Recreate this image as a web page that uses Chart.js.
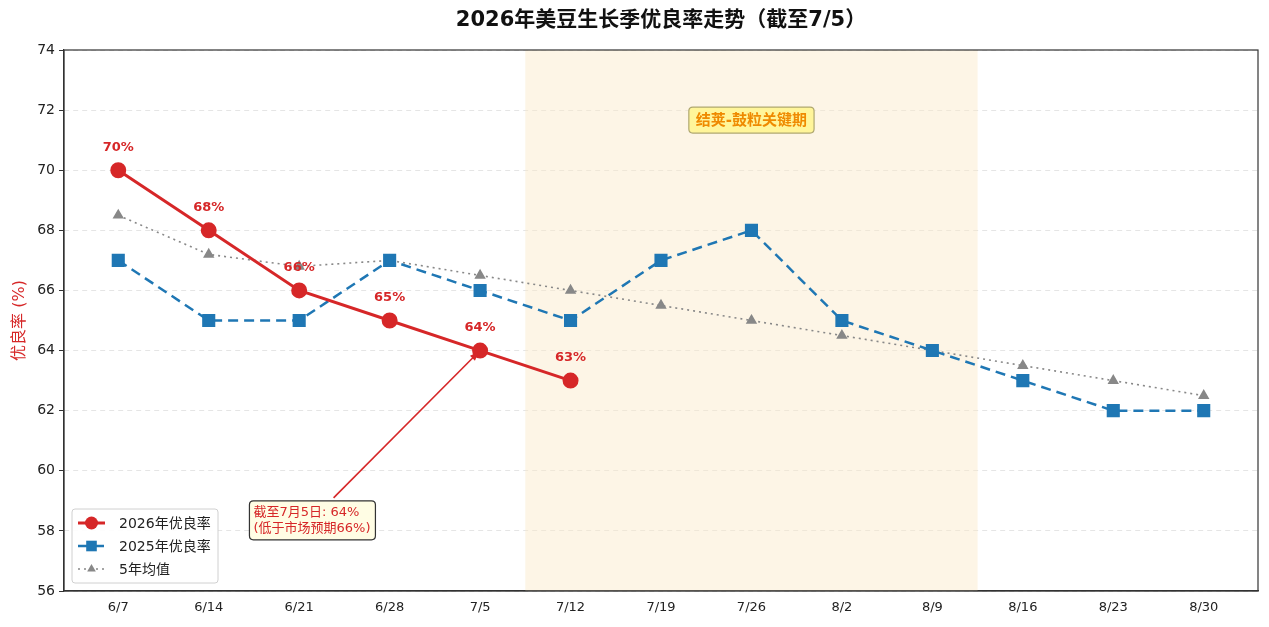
<!DOCTYPE html>
<html lang="zh">
<head>
<meta charset="UTF-8">
<title>2026年美豆生长季优良率走势</title>
<script src="https://cdn.jsdelivr.net/npm/chart.js"></script>
<style>
  html, body { margin: 0; padding: 0; background: #fff; }
  #wrap { width: 1269px; height: 627px; }
</style>
</head>
<body>
<div id="wrap"><canvas id="cropChart" width="1269" height="627"></canvas></div>
<script>
// chart data
const weeks = ["6/7", "6/14", "6/21", "6/28", "7/5", "7/12", "7/19", "7/26", "8/2", "8/9", "8/16", "8/23", "8/30"];
const rate2026 = [70, 68, 66, 65, 64, 63];
const rate2025 = [67, 65, 65, 67, 66, 65, 67, 68, 65, 64, 63, 62, 62];
const avg5yr = [68.5, 67.2, 66.8, 67, 66.5, 66, 65.5, 65, 64.5, 64, 63.5, 63, 62.5];
const yTicks = [56, 58, 60, 62, 64, 66, 68, 70, 72, 74];

const FONT = '"DejaVu Sans", "Noto Sans CJK SC", sans-serif';
const RED = "#d62728";
const BLUE = "#1f77b4";
const GREY = "#888888";

const toPoints = arr => arr.map((v, i) => ({ x: i, y: v }));

// shaded window, title, labels, annotations, legend
const decorPlugin = {
  id: "decor",
  beforeDatasetsDraw(chart) {
    const { ctx, chartArea, scales: { x, y } } = chart;
    ctx.save();
    ctx.fillStyle = "rgba(250, 232, 200, 0.45)";
    const x0 = x.getPixelForValue(4.5), x1 = x.getPixelForValue(9.5);
    ctx.fillRect(x0, chartArea.top, x1 - x0, chartArea.bottom - chartArea.top);
    ctx.restore();
  },
  afterDraw(chart) {
    const { ctx, chartArea, scales: { x, y } } = chart;
    ctx.save();

    // title
    ctx.fillStyle = "#111";
    ctx.font = "bold 21px " + FONT;
    ctx.textAlign = "center";
    ctx.textBaseline = "middle";
    ctx.fillText("2026年美豆生长季优良率走势（截至7/5）", (chartArea.left + chartArea.right) / 2, 21);

    // y label
    ctx.save();
    ctx.translate(20, (chartArea.top + chartArea.bottom) / 2);
    ctx.rotate(-Math.PI / 2);
    ctx.fillStyle = RED;
    ctx.font = "16px " + FONT;
    ctx.fillText("优良率 (%)", 0, 0);
    ctx.restore();

    // data labels for 2026
    ctx.fillStyle = RED;
    ctx.font = "bold 13px " + FONT;
    rate2026.forEach((v, i) => {
      ctx.fillText(v + "%", x.getPixelForValue(i), y.getPixelForValue(v) - 23);
    });

    // phase label
    const px = x.getPixelForValue(7), py = y.getPixelForValue(71.67);
    ctx.font = "bold 15px " + FONT;
    const tw = ctx.measureText("结荚-鼓粒关键期").width;
    roundRect(ctx, px - tw / 2 - 7, py - 13, tw + 14, 26, 4);
    ctx.fillStyle = "#fff59a";
    ctx.fill();
    ctx.strokeStyle = "#b0a870";
    ctx.lineWidth = 1.2;
    ctx.stroke();
    ctx.fillStyle = "#ef8a00";
    ctx.fillText("结荚-鼓粒关键期", px, py + 1);

    // arrow
    const ax = x.getPixelForValue(2.38), ay = y.getPixelForValue(59.1);
    const bx = x.getPixelForValue(4), by = y.getPixelForValue(64);
    ctx.strokeStyle = RED;
    ctx.lineWidth = 1.6;
    ctx.beginPath();
    ctx.moveTo(ax, ay);
    ctx.lineTo(bx - 3, by + 3);
    ctx.stroke();
    const ang = Math.atan2(by - ay, bx - ax);
    ctx.fillStyle = RED;
    ctx.beginPath();
    ctx.moveTo(bx - 1, by + 1);
    ctx.lineTo(bx - 1 - 10 * Math.cos(ang - 0.35), by + 1 - 10 * Math.sin(ang - 0.35));
    ctx.lineTo(bx - 1 - 10 * Math.cos(ang + 0.35), by + 1 - 10 * Math.sin(ang + 0.35));
    ctx.closePath();
    ctx.fill();

    // annotation box
    const bxl = x.getPixelForValue(1.45), byt = y.getPixelForValue(59.0);
    roundRect(ctx, bxl, byt, 126, 39, 4);
    ctx.fillStyle = "#fffde4";
    ctx.fill();
    ctx.strokeStyle = "#333";
    ctx.lineWidth = 1.2;
    ctx.stroke();
    ctx.fillStyle = RED;
    ctx.font = "13px " + FONT;
    ctx.textAlign = "left";
    ctx.fillText("截至7月5日: 64%", bxl + 4, byt + 12);
    ctx.fillText("(低于市场预期66%)", bxl + 4, byt + 28);

    // legend
    const lx = chartArea.left + 8, ly = chartArea.bottom - 82;
    roundRect(ctx, lx, ly, 146, 74, 3);
    ctx.fillStyle = "rgba(255,255,255,0.9)";
    ctx.fill();
    ctx.strokeStyle = "#d0d0d0";
    ctx.lineWidth = 1;
    ctx.stroke();
    chart.data.datasets.forEach((ds, k) => {
      const cy = ly + 14 + k * 23;
      ctx.save();
      ctx.strokeStyle = ds.borderColor;
      ctx.lineWidth = ds.borderWidth;
      ctx.setLineDash(ds.borderDash || []);
      ctx.beginPath();
      ctx.moveTo(lx + 6, cy);
      ctx.lineTo(lx + 33, cy);
      ctx.stroke();
      ctx.restore();
      ctx.fillStyle = ds.pointBackgroundColor;
      ctx.beginPath();
      drawMarker(ctx, ds.pointStyle, lx + 19.5, cy, ds.pointRadius);
      ctx.fill();
      ctx.fillStyle = "#222";
      ctx.font = "14px " + FONT;
      ctx.textAlign = "left";
      ctx.fillText(ds.label, lx + 47, cy + 1);
    });

    ctx.restore();
  }
};

function drawMarker(ctx, style, cx, cy, r) {
  if (style === "circle") {
    ctx.arc(cx, cy, r, 0, Math.PI * 2);
  } else if (style === "rect") {
    const s = r / Math.SQRT2;
    ctx.rect(cx - s, cy - s, 2 * s, 2 * s);
  } else {
    ctx.moveTo(cx, cy - r);
    ctx.lineTo(cx + r * 0.866, cy + r * 0.5);
    ctx.lineTo(cx - r * 0.866, cy + r * 0.5);
    ctx.closePath();
  }
}

function roundRect(ctx, x, y, w, h, r) {
  ctx.beginPath();
  ctx.moveTo(x + r, y);
  ctx.lineTo(x + w - r, y);
  ctx.quadraticCurveTo(x + w, y, x + w, y + r);
  ctx.lineTo(x + w, y + h - r);
  ctx.quadraticCurveTo(x + w, y + h, x + w - r, y + h);
  ctx.lineTo(x + r, y + h);
  ctx.quadraticCurveTo(x, y + h, x, y + h - r);
  ctx.lineTo(x, y + r);
  ctx.quadraticCurveTo(x, y, x + r, y);
  ctx.closePath();
}

// frame on all four sides
const framePlugin = {
  id: "frame",
  afterDatasetsDraw(chart) {
    const { ctx, chartArea: a } = chart;
    ctx.save();
    ctx.strokeStyle = "#333";
    ctx.lineWidth = 1.2;
    ctx.strokeRect(a.left, a.top, a.right - a.left, a.bottom - a.top);
    ctx.restore();
  }
};

const ctx = document.getElementById("cropChart").getContext("2d");
new Chart(ctx, {
  type: "line",
  data: {
    datasets: [
      {
        label: "2026年优良率",
        data: toPoints(rate2026),
        borderColor: RED,
        backgroundColor: RED,
        pointBackgroundColor: RED,
        pointBorderColor: RED,
        borderWidth: 3,
        pointStyle: "circle",
        pointRadius: 6.5,
        order: 1
      },
      {
        label: "2025年优良率",
        data: toPoints(rate2025),
        borderColor: BLUE,
        backgroundColor: BLUE,
        pointBackgroundColor: BLUE,
        pointBorderColor: BLUE,
        borderWidth: 2.5,
        borderDash: [10, 6],
        pointStyle: "rect",
        pointRadius: 7.5,
        order: 2
      },
      {
        label: "5年均值",
        data: toPoints(avg5yr),
        borderColor: GREY,
        backgroundColor: GREY,
        pointBackgroundColor: GREY,
        pointBorderColor: GREY,
        borderWidth: 1.6,
        borderDash: [2, 4],
        pointStyle: "triangle",
        pointRadius: 5,
        order: 3
      }
    ]
  },
  options: {
    responsive: false,
    animation: false,
    layout: { padding: { top: 50, right: 11, left: 0, bottom: 0 } },
    plugins: {
      legend: { display: false },
      title: { display: false },
      tooltip: { enabled: false }
    },
    scales: {
      x: {
        type: "linear",
        min: -0.6,
        max: 12.6,
        afterBuildTicks: axis => { axis.ticks = weeks.map((w, i) => ({ value: i })); },
        afterFit: axis => { axis.height = 36; },
        ticks: {
          callback: v => weeks[v],
          color: "#222",
          font: { size: 13, family: FONT },
          maxRotation: 0,
          autoSkip: false,
          padding: 4
        },
        grid: { display: false, drawTicks: true, tickLength: 5, tickColor: "#333" },
        border: { display: true, color: "#333", width: 1.2 }
      },
      y: {
        min: 56,
        max: 74,
        afterBuildTicks: axis => { axis.ticks = yTicks.map(v => ({ value: v })); },
        afterFit: axis => { axis.width = 64; },
        ticks: {
          color: "#222",
          font: { size: 14, family: FONT },
          padding: 4
        },
        grid: {
          color: "rgba(0,0,0,0.1)",
          tickColor: "#333",
          tickLength: 5,
          drawTicks: true
        },
        // grid line dash lives on border in v4; frame plugin redraws the solid axis line
        border: { display: true, color: "#333", width: 1.2, dash: [5, 4] }
      }
    }
  },
  plugins: [decorPlugin, framePlugin]
});
</script>
</body>
</html>
